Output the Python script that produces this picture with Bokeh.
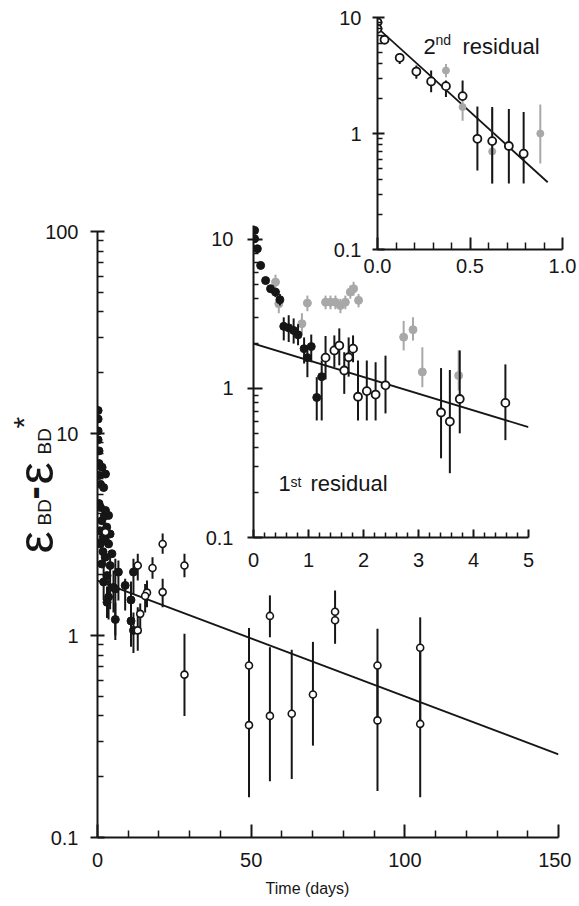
from math import pi
from bokeh.plotting import figure
from bokeh.models import Range1d, FixedTicker, Label, CustomJSTickFormatter, PrintfTickFormatter
from bokeh.embed import file_html
from bokeh.resources import INLINE

FONT = "Liberation Sans"
INK = "#161616"
GRAY = "#a8a8a8"

# ---------------- main panel data (days, value) ----------------
main_fill_x = [0.2, 0.2, 0.2, 0.2, 0.5, 0.5, 1.5, 2.6, 0.5, 1.0, 2.0, 0.5, 1.0, 2.6, 3.6, 1.4,
               3.0, 4.1, 1.9, 0.9, 3.6, 2.6, 4.7, 2.5, 1.4, 4.1, 3.1, 2.0, 5.2, 3.6, 3.1, 6.8,
               5.8, 9.0, 11.7, 10.9, 5.8, 10.9, 11.7, 1.8, 0.8, 2.2]
main_fill_y = [13.0, 11.8, 10.3, 9.3, 8.2, 7.1, 6.8, 6.3, 6.2, 5.6, 5.4, 4.5, 4.3, 4.16, 3.93, 3.7,
               3.44, 3.18, 3.07, 2.84, 2.84, 2.95, 2.54, 2.44, 2.26, 2.22, 1.98, 1.84, 1.73, 1.55, 1.46, 2.06,
               1.70, 1.77, 2.06, 1.50, 1.20, 1.18, 1.06, 2.6, 3.3, 3.9]
main_fbar_x = [2.0, 3.1, 3.6, 4.1, 5.2, 5.8, 5.8, 6.8, 9.0, 10.9, 10.9, 11.7, 11.7]
main_fbar_lo = [1.50, 1.22, 1.20, 1.35, 1.30, 1.00, 0.95, 1.49, 1.33, 1.15, 0.88, 1.60, 0.82]
main_fbar_hi = [2.20, 1.75, 1.90, 2.50, 2.10, 2.40, 1.45, 2.35, 1.91, 1.85, 1.50, 2.40, 1.30]

main_open_x = [2.6, 13.1, 17.9, 21.2, 28.3, 16.1, 21.2, 15.5, 13.9, 13.1, 28.3,
               49.3, 49.3, 56.1, 56.1, 63.2, 70.1, 77.3, 77.3, 91.1, 91.1, 105.0, 105.0]
main_open_y = [3.25, 2.22, 2.16, 2.84, 2.22, 1.63, 1.64, 1.57, 1.28, 1.06, 0.64,
               0.71, 0.36, 1.25, 0.40, 0.41, 0.51, 1.31, 1.19, 0.71, 0.38, 0.87, 0.365]
main_open_lo = [3.0, 1.87, 1.91, 2.54, 1.94, 1.38, 1.38, 1.30, 1.02, 0.84, 0.40,
                0.36, 0.158, 0.98, 0.19, 0.195, 0.285, 1.19, 0.91, 0.38, 0.17, 0.365, 0.158]
main_open_hi = [3.5, 2.54, 2.44, 3.20, 2.54, 1.87, 1.91, 1.80, 1.44, 1.38, 1.02,
                1.09, 0.71, 1.58, 0.875, 0.85, 0.93, 1.67, 1.31, 1.08, 0.71, 1.23, 0.87]
main_fit_x = [0, 150]
main_fit_y = [1.87, 0.258]

main_xticks = [0, 50, 100, 150]
main_xminor = [10, 20, 30, 40, 60, 70, 80, 90, 110, 120, 130, 140]
log_major = [0.1, 1, 10, 100]
log_minor = [0.2, 0.3, 0.4, 0.5, 0.6, 0.7, 0.8, 0.9, 2, 3, 4, 5, 6, 7, 8, 9,
             20, 30, 40, 50, 60, 70, 80, 90]

# ---------------- inset 1: 1st residual ----------------
r1_fill_x = [0.02, 0.02, 0.07, 0.13, 0.22, 0.31, 0.40, 0.48, 0.55, 0.64, 0.73, 0.81, 0.92, 1.05, 0.98, 1.24, 1.15]
r1_fill_y = [11.5, 10.1, 8.66, 6.69, 5.3, 4.67, 4.43, 3.94, 2.61, 2.55, 2.45, 2.29, 1.85, 1.91, 1.61, 1.20, 0.87]
r1_fill_lo = [11.0, 9.6, 8.2, 6.3, 5.0, 4.4, 4.1, 3.6, 2.10, 2.05, 2.00, 1.95, 1.47, 1.50, 1.19, 0.61, 0.61]
r1_fill_hi = [12.0, 10.6, 9.1, 7.1, 5.6, 4.9, 4.7, 4.3, 3.00, 3.10, 2.95, 2.70, 2.20, 2.30, 1.89, 1.54, 1.19]

r1_gray_x = [0.40, 0.46, 0.88, 0.98, 1.31, 1.40, 1.49, 1.58, 1.67, 1.76, 1.82, 1.91, 2.73, 2.90, 3.07, 3.73]
r1_gray_y = [5.17, 3.70, 2.72, 3.74, 3.79, 3.79, 3.79, 3.60, 3.79, 4.43, 4.67, 3.90, 2.21, 2.48, 1.29, 1.22]
r1_gray_lo = [4.6, 3.2, 2.3, 3.3, 3.4, 3.4, 3.4, 3.2, 3.4, 4.0, 4.2, 3.5, 1.80, 2.10, 1.02, 0.97]
r1_gray_hi = [5.8, 4.2, 3.2, 4.2, 4.2, 4.2, 4.2, 4.0, 4.2, 4.9, 5.2, 4.3, 2.84, 3.00, 1.89, 1.80]

r1_open_x = [1.31, 1.47, 1.56, 1.65, 1.73, 1.81, 1.90, 2.06, 2.22, 2.40, 3.41, 3.57, 3.75, 4.58]
r1_open_y = [1.61, 1.80, 1.94, 1.32, 1.62, 1.85, 0.88, 0.96, 0.91, 1.05, 0.69, 0.60, 0.85, 0.80]
r1_open_lo = [1.15, 1.39, 1.43, 0.92, 1.20, 1.50, 0.61, 0.61, 0.61, 0.68, 0.34, 0.27, 0.50, 0.45]
r1_open_hi = [2.25, 2.27, 2.53, 1.75, 2.20, 2.27, 1.54, 1.54, 1.50, 1.66, 1.37, 1.33, 1.80, 1.45]
r1_fit_x = [0, 5]
r1_fit_y = [2.0, 0.55]
r1_xticks = [0, 1, 2, 3, 4, 5]
r1_xminor = [0.2, 0.4, 0.6, 0.8, 1.2, 1.4, 1.6, 1.8, 2.2, 2.4, 2.6, 2.8,
             3.2, 3.4, 3.6, 3.8, 4.2, 4.4, 4.6, 4.8]

# ---------------- inset 2: 2nd residual ----------------
r2_open_x = [0.0, 0.0, 0.038, 0.12, 0.21, 0.29, 0.37, 0.46, 0.54, 0.62, 0.71, 0.79]
r2_open_y = [9.1, 8.0, 6.43, 4.49, 3.42, 2.81, 2.56, 2.10, 0.90, 0.86, 0.78, 0.67]
r2_open_lo = [8.5, 7.4, 6.0, 3.98, 2.96, 2.27, 2.06, 1.93, 0.48, 0.37, 0.37, 0.37]
r2_open_hi = [10.0, 8.6, 6.9, 4.87, 3.85, 3.49, 2.86, 2.86, 1.71, 1.69, 1.63, 1.53]
r2_gray_x = [0.37, 0.46, 0.62, 0.88]
r2_gray_y = [3.49, 1.69, 0.70, 1.00]
r2_gray_lo = [3.06, 1.29, 0.37, 0.55]
r2_gray_hi = [3.98, 1.93, 1.63, 1.78]
r2_fit_x = [0, 0.92]
r2_fit_y = [8.15, 0.38]
r2_xticks = [0.0, 0.5, 1.0]
r2_xminor = [0.1, 0.2, 0.3, 0.4, 0.6, 0.7, 0.8, 0.9]
log_major2 = [0.1, 1, 10]
log_minor2 = [0.2, 0.3, 0.4, 0.5, 0.6, 0.7, 0.8, 0.9, 2, 3, 4, 5, 6, 7, 8, 9]

W, H = 563, 890
logfmt = CustomJSTickFormatter(code="return tick < 1 ? tick.toFixed(1) : tick.toFixed(0)")


def overlay(p, left=8):
    p.styles = {"position": "absolute", "left": f"{left}px", "top": "8px"}
    p.stylesheets = [f":host {{ position: absolute !important; left: {left}px !important; top: 8px !important; }}"]


def make_fig(xr, yr, borders, bg, width=W):
    p = figure(width=width, height=H, x_range=Range1d(*xr), y_range=Range1d(*yr), y_axis_type="log",
               output_backend="svg", toolbar_location=None,
               min_border_left=borders[0], min_border_right=borders[1],
               min_border_top=borders[2], min_border_bottom=borders[3])
    p.grid.visible = False
    p.outline_line_color = None
    p.background_fill_color = bg
    p.border_fill_color = bg
    for ax in (p.xaxis[0], p.yaxis[0]):
        ax.axis_line_color = INK
        ax.axis_line_width = 2
        ax.major_tick_line_color = INK
        ax.major_tick_line_width = 2
        ax.minor_tick_line_color = INK
        ax.minor_tick_line_width = 1.5
        ax.major_label_text_font = FONT
        ax.major_label_text_font_size = "20px"
        ax.major_label_text_color = INK
    p.yaxis.formatter = logfmt
    return p


def style_ticks(p, x_in, x_min_in, y_in, y_out, y_min_in, xstand, ystand):
    xa, ya = p.xaxis[0], p.yaxis[0]
    xa.major_tick_in, xa.major_tick_out = x_in, 0
    xa.minor_tick_in, xa.minor_tick_out = x_min_in, 0
    ya.major_tick_in, ya.major_tick_out = y_in, y_out
    ya.minor_tick_in, ya.minor_tick_out = y_min_in, 0
    xa.major_label_standoff = xstand
    ya.major_label_standoff = ystand


def bars(p, x, lo, hi, color, width=2):
    p.segment(x0=x, y0=lo, x1=x, y1=hi, line_color=color, line_width=width)


# ---------------- main figure ----------------
p0 = make_fig((0, 150), (0.1, 100), (89, 13, 223, 61), "white")
p0.xaxis.ticker = FixedTicker(ticks=main_xticks, minor_ticks=main_xminor)
p0.yaxis.ticker = FixedTicker(ticks=log_major, minor_ticks=log_minor)
style_ticks(p0, 13, 7, 7, 7, 6, 15, 12)
p0.line(main_fit_x, main_fit_y, line_color=INK, line_width=1.8)
bars(p0, main_fbar_x, main_fbar_lo, main_fbar_hi, INK)
bars(p0, main_open_x, main_open_lo, main_open_hi, INK)
p0.scatter(main_fill_x, main_fill_y, size=8, marker="circle", fill_color=INK, line_color=INK)
p0.scatter(main_open_x, main_open_y, size=7, marker="circle", fill_color="white", line_color=INK, line_width=1.6)
overlay(p0)

# ---------------- inset 1 ----------------
p1 = make_fig((0, 5), (0.1, 12.4), (245, 43, 217, 361), None)
p1.xaxis.ticker = FixedTicker(ticks=r1_xticks, minor_ticks=r1_xminor)
p1.yaxis.ticker = FixedTicker(ticks=log_major2, minor_ticks=log_minor2)
style_ticks(p1, 8, 5, 9, 6, 5, 15, 14)
p1.line(r1_fit_x, r1_fit_y, line_color=INK, line_width=1.8)
bars(p1, r1_gray_x, r1_gray_lo, r1_gray_hi, GRAY)
p1.scatter(r1_gray_x, r1_gray_y, size=8, marker="circle", fill_color=GRAY, line_color=GRAY)
bars(p1, r1_fill_x, r1_fill_lo, r1_fill_hi, INK)
bars(p1, r1_open_x, r1_open_lo, r1_open_hi, INK)
p1.scatter(r1_fill_x, r1_fill_y, size=8, marker="circle", fill_color=INK, line_color=INK)
p1.scatter(r1_open_x, r1_open_y, size=8, marker="circle", fill_color="white", line_color=INK, line_width=1.8)
overlay(p1)

# ---------------- inset 2 ----------------
p2 = make_fig((0, 1.0), (0.1, 10), (369, 17, 9, 649), None, width=W + 8)
p2.xaxis.ticker = FixedTicker(ticks=r2_xticks, minor_ticks=r2_xminor)
p2.xaxis.formatter = PrintfTickFormatter(format="%.1f")
p2.yaxis.ticker = FixedTicker(ticks=log_major2, minor_ticks=log_minor2)
style_ticks(p2, 12, 7, 7, 5, 5, 9, 11)
p2.line(r2_fit_x, r2_fit_y, line_color=INK, line_width=1.8)
bars(p2, r2_gray_x, r2_gray_lo, r2_gray_hi, GRAY)
p2.scatter(r2_gray_x, r2_gray_y, size=7, marker="circle", fill_color=GRAY, line_color=GRAY)
bars(p2, r2_open_x, r2_open_lo, r2_open_hi, INK)
p2.scatter(r2_open_x, r2_open_y, size=8, marker="circle", fill_color="white", line_color=INK, line_width=1.8)
overlay(p2)

# ---------------- text overlay (page-pixel x, canvas y up), spans x 0..571 ----------------
W3 = W + 8
p3 = figure(width=W3, height=H, x_range=Range1d(0, W3), y_range=Range1d(0, H),
            output_backend="svg", toolbar_location=None, x_axis_location=None, y_axis_location=None,
            min_border=0)
p3.grid.visible = False
p3.outline_line_color = None
p3.background_fill_color = None
p3.border_fill_color = None
overlay(p3, left=0)


def txt(x, y, text, size, angle=0.0, align="left", weight="normal"):
    p3.add_layout(Label(x=x, y=y, text=text, text_font=FONT, text_font_size=f"{size}px",
                        text_color=INK, angle=angle, text_align=align,
                        text_baseline="alphabetic", text_font_style=weight))


# y title: ε_BD - ε_BD* (rotated)
txt(35, 345, "ε", 50, angle=pi / 2)
txt(44, 373, "BD", 19, angle=pi / 2)
txt(32, 399, "-", 40, angle=pi / 2, weight="bold")
txt(35, 414, "ε", 50, angle=pi / 2)
txt(44, 444, "BD", 19, angle=pi / 2)
txt(23, 470, "*", 30, angle=pi / 2)
# x title
txt(307, 10, "Time (days)", 16, align="center")
# inset titles
txt(278, 415, "1", 22)
txt(290, 417, "st", 14)
txt(310, 415, "residual", 22)
txt(423, 852, "2", 22)
txt(435, 859, "nd", 14)
txt(462, 852, "residual", 22)

open("out.html", "w").write(file_html([p0, p1, p2, p3], INLINE))
